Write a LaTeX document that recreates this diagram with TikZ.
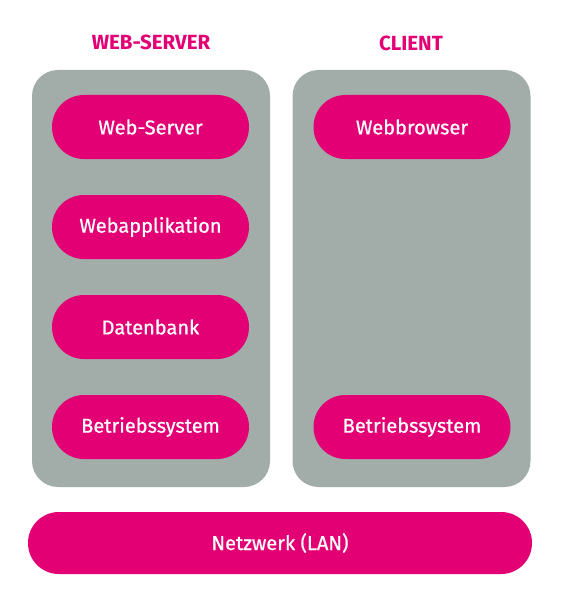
\documentclass[tikz,border=0pt]{standalone}
\usepackage{fontspec}
\setmainfont{Fira Sans}
\newfontfamily\pillfont{Fira Sans}[FakeBold=0.7]
\usepackage{xcolor}
\usepackage{tikz}
\usetikzlibrary{positioning,calc}
\definecolor{magenta}{RGB}{226,0,116}
\definecolor{panelgray}{RGB}{162,173,170}
\tikzset{
  panel/.style={fill=panelgray,rounded corners=26pt,minimum width=238pt,minimum height=417pt,inner sep=0pt},
  pill/.style={fill=magenta,rounded corners=31.9pt,minimum width=197pt,minimum height=64pt,inner sep=0pt,
    text=white,font=\pillfont\fontsize{20}{24}\selectfont},
  heading/.style={text=magenta,font=\bfseries\fontsize{20.5}{24}\selectfont}
}

\begin{document}
\begin{tikzpicture}[x=1pt,y=-1pt]
        \useasboundingbox (0,0) rectangle (576,607);
        % Spalten
        \node[panel] (srv) at (151,278.5) {};
        \node[panel] (cli) at (411.5,278.5) {};
        \node[heading] (srvhead) at (151,42) {WEB-SERVER};
        \node[heading] (clihead) at (411,43) {CLIENT};
        % Schichten Web-Server
        \node[pill] (websrv) at (150.5,127) {Web-Server};
        \node[pill] (webapp) at (150.5,227) {Webapplikation};
        \node[pill] (db) at (150.5,327) {Datenbank};
        \node[pill] (ossrv) at (150.5,427) {Betriebssystem};
        % Schichten Client
        \node[pill] (browser) at (412,127) {Webbrowser};
        \node[pill] (oscli) at (412,427) {Betriebssystem};
        % Netzwerk
        \node[pill,minimum width=504pt,minimum height=62pt,rounded corners=30.9pt] (lan) at (280,543) {Netzwerk (LAN)};
      \end{tikzpicture}
\end{document}
